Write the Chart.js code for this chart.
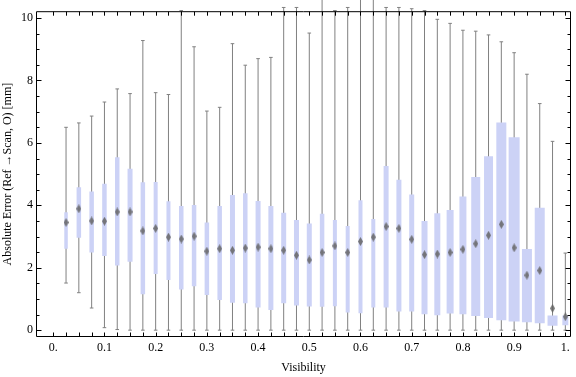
<!DOCTYPE html>
<html>
<head>
<meta charset="utf-8">
<script src="https://cdn.jsdelivr.net/npm/chart.js@4/dist/chart.umd.min.js"></script>
<style>
  html, body { margin: 0; padding: 0; background: #fff; }
</style>
</head>
<body>
<canvas id="grafico" width="576" height="377"></canvas>
<script>
/* DATA */
// Visibility of each box (x position)
const visibility = [0.025, 0.05, 0.075, 0.1, 0.125, 0.15, 0.175, 0.2, 0.225, 0.25,
  0.275, 0.3, 0.325, 0.35, 0.375, 0.4, 0.425, 0.45, 0.475, 0.5,
  0.525, 0.55, 0.575, 0.6, 0.625, 0.65, 0.675, 0.7, 0.725, 0.75,
  0.775, 0.8, 0.825, 0.85, 0.875, 0.9, 0.925, 0.95, 0.975, 1.0];
// Lower whisker end
const minimums = [1.51, 1.20, 0.71, 0.08, 0.02, 0, 0, 0, 0, 0,
  0, 0, 0, 0, 0, 0, 0, 0, 0, 0,
  0, 0, 0, 0, 0, 0, 0, 0, 0, 0,
  0, 0, 0, 0, 0, 0, 0, 0, 0, 0];
// Lower edge of the box
const quartile1 = [2.61, 2.96, 2.49, 2.38, 2.07, 2.19, 1.15, 1.80, 1.61, 1.30,
  1.41, 1.13, 0.97, 0.88, 0.86, 0.73, 0.65, 0.86, 0.79, 0.76,
  0.75, 0.77, 0.57, 0.54, 0.73, 0.73, 0.60, 0.60, 0.51, 0.48,
  0.53, 0.51, 0.45, 0.39, 0.32, 0.28, 0.25, 0.22, 0.14, 0.16];
// Diamond marker
const medians = [3.45, 3.89, 3.50, 3.49, 3.79, 3.79, 3.18, 3.26, 2.98, 2.92,
  3.01, 2.53, 2.61, 2.56, 2.63, 2.66, 2.61, 2.56, 2.40, 2.25,
  2.49, 2.70, 2.49, 2.84, 2.98, 3.32, 3.26, 2.91, 2.42, 2.44,
  2.49, 2.59, 2.77, 3.04, 3.39, 2.64, 1.76, 1.91, 0.70, 0.43];
// Upper edge of the box
const quartile3 = [3.78, 4.58, 4.44, 4.69, 5.54, 5.17, 4.74, 4.75, 4.13, 3.98,
  4.01, 3.45, 3.98, 4.33, 4.39, 4.14, 3.98, 3.76, 3.53, 3.42,
  3.73, 3.53, 3.34, 4.16, 3.56, 5.26, 4.82, 4.35, 3.50, 3.75,
  3.85, 4.28, 4.91, 5.57, 6.65, 6.18, 2.60, 3.92, 0.47, 0.47];
// Upper whisker end (values above ~10.2 leave the frame)
const maximums = [6.50, 6.64, 6.86, 7.31, 7.73, 7.58, 9.28, 7.61, 7.55, 10.24,
  9.08, 7.02, 7.14, 9.18, 8.49, 8.70, 8.74, 10.34, 10.34, 9.52,
  10.60, 10.24, 10.34, 10.60, 10.60, 10.34, 10.34, 10.30, 10.24, 9.96,
  9.83, 9.61, 9.58, 9.46, 9.24, 8.89, 8.20, 7.26, 6.05, 2.47];

// Axis labels
const x_tick_values = [0, 0.1, 0.2, 0.3, 0.4, 0.5, 0.6, 0.7, 0.8, 0.9, 1.0];
const x_tick_labels = ["0.", "0.1", "0.2", "0.3", "0.4", "0.5", "0.6", "0.7", "0.8", "0.9", "1."];
const y_tick_values = [0, 2, 4, 6, 8, 10];
const y_tick_labels = ["0", "2", "4", "6", "8", "10"];

/* STYLE */
// Box width in pixels for each box (widths grow to the right)
const box_px = [3.5, 4.5, 4.5, 4.5, 4.5, 5, 4.5, 4, 4, 4.5,
  4.5, 4.5, 4.5, 5, 4.5, 5, 5, 5, 5, 5,
  4.5, 4, 4, 4, 4, 5, 5, 5, 6, 6,
  7, 7, 9, 9, 10, 11, 10, 10, 10, 6];
const box_color = "rgb(204, 210, 246)";
const whisker_color = "rgb(128, 128, 128)";
const font_family = "'Liberation Serif', 'Times New Roman', serif";

// Points for the whiskers and boxes: two points per box and a null to break the line
const whisker_points = [];
const box_points = [];
const median_points = [];
for (let i = 0; i < visibility.length; i++) {
  whisker_points.push({ x: visibility[i], y: minimums[i] }, { x: visibility[i], y: maximums[i] }, { x: visibility[i], y: null });
  box_points.push({ x: visibility[i], y: quartile1[i] }, { x: visibility[i], y: quartile3[i] }, { x: visibility[i], y: null });
  median_points.push({ x: visibility[i], y: medians[i] });
}

// Diamond used as marker of the median
const diamond = document.createElement("canvas");
diamond.width = 5;
diamond.height = 9;
const dctx = diamond.getContext("2d");
dctx.fillStyle = "rgba(100, 100, 100, 0.85)";
dctx.beginPath();
dctx.moveTo(2.5, 0);
dctx.lineTo(5, 4.5);
dctx.lineTo(2.5, 9);
dctx.lineTo(0, 4.5);
dctx.closePath();
dctx.fill();

// Frame around the plot with ticks pointing inwards (Mathematica style)
const frame_plugin = {
  id: "frame_plugin",
  afterDatasetsDraw(chart) {
    const { ctx, chartArea: a, scales: { x, y } } = chart;
    const left = a.left - 0.5, right = a.right + 0.5, top = a.top + 0.5, bottom = a.bottom - 0.5;
    ctx.save();
    ctx.strokeStyle = "#000";
    ctx.lineWidth = 1;
    ctx.beginPath();
    ctx.rect(left, top, right - left, bottom - top);
    for (let k = 0; k <= 40; k++) {
      const px = Math.round(x.getPixelForValue(k * 0.025)) + 0.5;
      ctx.moveTo(px, bottom); ctx.lineTo(px, bottom - 4);
      ctx.moveTo(px, top); ctx.lineTo(px, top + 4);
    }
    for (let k = 0; k <= 20; k++) {
      const py = Math.round(y.getPixelForValue(k * 0.5)) + 0.5;
      const len = k % 4 === 0 ? 5 : 3;
      ctx.moveTo(left, py); ctx.lineTo(left + len, py);
      ctx.moveTo(right, py); ctx.lineTo(right - len, py);
    }
    ctx.stroke();
    ctx.restore();
  }
};

const canvas = document.getElementById("grafico");
new Chart(canvas.getContext("2d"), {
  type: "line",
  data: {
    datasets: [
      {
        // whiskers with small caps at both ends
        data: whisker_points,
        borderColor: whisker_color,
        borderWidth: 1,
        pointStyle: "line",
        pointRadius: 1.8,
        pointBorderColor: whisker_color,
        pointBorderWidth: 1,
        spanGaps: false,
        clip: false,
        order: 3,
      },
      {
        // boxes drawn as thick segments from q1 to q3
        data: box_points,
        borderColor: box_color,
        borderWidth: 4,
        borderCapStyle: "butt",
        pointRadius: 0,
        spanGaps: false,
        segment: {
          borderWidth: c => box_px[Math.floor(c.p0DataIndex / 3)],
        },
        order: 2,
      },
      {
        type: "scatter",
        data: median_points,
        pointStyle: diamond,
        pointRadius: 5,
        order: 1,
      },
    ],
  },
  options: {
    responsive: false,
    animation: false,
    devicePixelRatio: 1,
    events: [],
    layout: { padding: { top: 4, right: 1, left: 0, bottom: 0 } },
    plugins: {
      legend: { display: false },
      tooltip: { enabled: false },
    },
    scales: {
      x: {
        type: "linear",
        min: -0.0317,
        max: 1.0091,
        afterBuildTicks: s => { s.ticks = x_tick_values.map(v => ({ value: v })); },
        afterFit: s => { s.height = 40; },
        grid: { display: false, drawTicks: false },
        border: { display: false },
        ticks: {
          autoSkip: false,
          maxRotation: 0,
          padding: 4,
          color: "#000",
          font: { family: font_family, size: 12 },
          callback: (v, i) => x_tick_labels[i],
        },
        title: {
          display: true,
          text: "Visibility",
          color: "#000",
          font: { family: font_family, size: 12 },
          padding: { top: 0, bottom: 1.5 },
        },
      },
      y: {
        type: "linear",
        min: -0.219,
        max: 10.22,
        afterBuildTicks: s => { s.ticks = y_tick_values.map(v => ({ value: v })); },
        afterFit: s => { s.width = 37; },
        grid: { display: false, drawTicks: false },
        border: { display: false },
        ticks: {
          autoSkip: false,
          padding: 4,
          color: "#000",
          font: { family: font_family, size: 12 },
          callback: (v, i) => y_tick_labels[i],
        },
        title: {
          display: true,
          text: "Absolute Error (Ref \u2192Scan, O) [mm]",
          color: "#000",
          font: { family: font_family, size: 12 },
          padding: { top: 1, bottom: 0 },
        },
      },
    },
  },
  plugins: [frame_plugin],
});
</script>
</body>
</html>
